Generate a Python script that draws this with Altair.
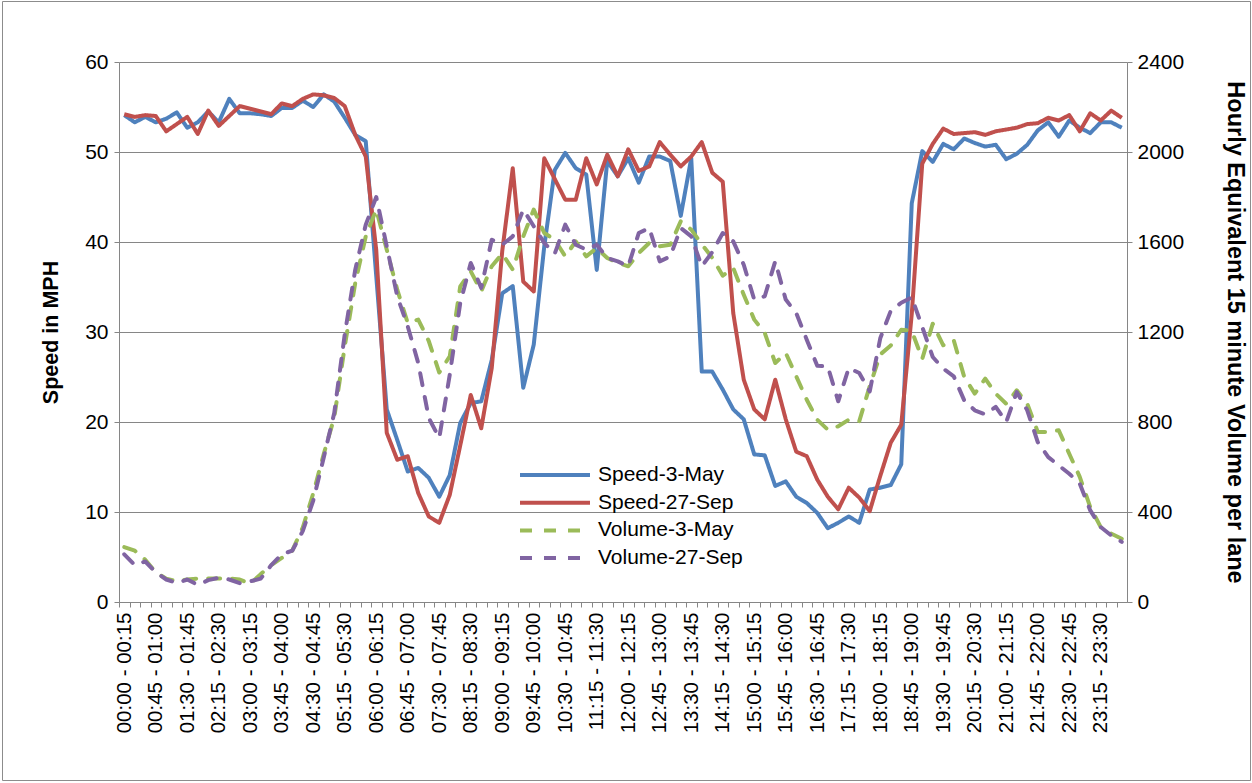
import altair as alt
import pandas as pd

# 15-minute intervals over one day
intervals = [
    f"{(m // 60) % 24:02d}:{m % 60:02d} - {((m + 15) // 60) % 24:02d}:{(m + 15) % 60:02d}"
    for m in range(0, 1440, 15)
]

series_names = ["Speed-3-May", "Speed-27-Sep", "Volume-3-May", "Volume-27-Sep"]
series_colors = ["#4F81BD", "#C0504D", "#9BBB59", "#8064A2"]

# Speed in MPH
speed_may = [
    54.1, 53.3, 53.9, 53.3, 53.7, 54.4, 52.7, 53.3, 54.5, 53.3, 55.9, 54.3,
    54.3, 54.2, 54.0, 54.9, 54.9, 55.7, 55.0, 56.4, 55.6, 53.8, 51.9, 51.2,
    36.2, 21.4, 18.0, 14.5, 14.9, 13.8, 11.7, 14.1, 19.9, 22.1, 22.3, 26.9,
    34.3, 35.1, 23.8, 28.6, 39.5, 48.0, 49.9, 48.2, 47.5, 36.9, 49.0, 47.3,
    49.3, 46.6, 49.5, 49.5, 49.0, 42.9, 49.3, 25.6, 25.6, 23.6, 21.4, 20.3,
    16.4, 16.3, 12.9, 13.4, 11.7, 11.0, 9.9, 8.2, 8.8, 9.5, 8.8, 12.5,
    12.7, 13.0, 15.3, 44.3, 50.1, 48.9, 50.9, 50.3, 51.5, 51.0, 50.6, 50.8,
    49.2, 49.8, 50.8, 52.4, 53.3, 51.7, 53.5, 52.7, 52.1, 53.3, 53.3, 52.7,
]
speed_sep = [
    54.2, 53.9, 54.1, 54.0, 52.3, 53.1, 53.9, 52.0, 54.6, 52.9, 54.0, 55.1,
    54.8, 54.5, 54.2, 55.4, 55.1, 55.9, 56.4, 56.3, 56.0, 55.1, 51.9, 49.5,
    39.1, 18.8, 15.8, 16.2, 12.1, 9.5, 8.8, 11.9, 17.4, 23.0, 19.3, 26.0,
    39.0, 48.2, 35.6, 34.5, 49.3, 47.0, 44.7, 44.7, 49.3, 46.4, 49.7, 47.3,
    50.3, 47.9, 48.4, 51.1, 49.7, 48.4, 49.5, 51.1, 47.7, 46.7, 32.1, 24.7,
    21.4, 20.3, 24.7, 20.3, 16.7, 16.2, 13.6, 11.7, 10.3, 12.7, 11.6, 10.1,
    14.0, 17.7, 19.7, 32.0, 48.7, 50.9, 52.6, 52.0, 52.1, 52.2, 51.9, 52.3,
    52.5, 52.7, 53.1, 53.2, 53.8, 53.5, 54.1, 52.3, 54.3, 53.5, 54.6, 53.8,
]

# Hourly equivalent 15-minute volume per lane
volume_may = [
    244, 228, 188, 132, 104, 92, 100, 104, 104, 104, 104, 100,
    81, 124, 164, 196, 228, 331, 483, 658, 820, 1136, 1418, 1625,
    1744, 1566, 1388, 1240, 1255, 1160, 1020, 1092, 1403, 1470, 1381, 1492,
    1548, 1477, 1625, 1744, 1640, 1610, 1536, 1603, 1536, 1573, 1529, 1507,
    1492, 1551, 1596, 1581, 1588, 1692, 1655, 1590, 1530, 1450, 1484, 1366,
    1255, 1196, 1062, 1107, 1003, 899, 810, 766, 781, 810, 803, 959,
    1100, 1140, 1210, 1205, 1081, 1237, 1141, 1163, 1000, 926, 993, 926,
    881, 941, 881, 756, 756, 763, 659, 556, 422, 333, 304, 281,
]
volume_sep = [
    212, 164, 180, 132, 100, 84, 100, 76, 97, 108, 100, 84,
    92, 104, 164, 212, 228, 315, 451, 642, 840, 1190, 1477, 1677,
    1800, 1581, 1359, 1225, 1062, 818, 729, 1010, 1329, 1507, 1396, 1610,
    1588, 1625, 1744, 1670, 1596, 1548, 1677, 1588, 1566, 1588, 1529, 1514,
    1492, 1640, 1662, 1514, 1536, 1662, 1625, 1492, 1555, 1640, 1603, 1499,
    1344, 1359, 1514, 1344, 1284, 1166, 1050, 1047, 892, 1040, 1018, 936,
    1172, 1294, 1330, 1354, 1222, 1089, 1037, 1003, 896, 852, 834, 867,
    800, 933, 852, 711, 644, 607, 570, 526, 407, 333, 296, 267,
]

rows = []
for name, values in zip(series_names, [speed_may, speed_sep, volume_may, volume_sep]):
    for t, v in zip(intervals, values):
        rows.append({"interval": t, "series": name, "value": v})
df = pd.DataFrame(rows)

FONT = "Liberation Sans"
AXIS_GRAY = "#868686"
PLOT_W, PLOT_H = 1008, 540
step = PLOT_W / len(intervals)

# every third interval gets a label; every interval gets a tick at its left edge
label_expr = (
    "(parseInt(substring(datum.value, 0, 2)) * 4 + "
    "parseInt(substring(datum.value, 3, 5)) / 15) % 3 == 0 ? datum.value : ''"
)

x_enc = alt.X(
    "interval:N",
    sort=intervals,
    scale=alt.Scale(type="point", padding=0.5),
    axis=alt.Axis(
        title=None,
        labelExpr=label_expr,
        labelAngle=270,
        labelAlign="right",
        labelBaseline="middle",
        labelOverlap=False,
        labelBound=False,
        labelFontSize=20.5,
        labelPadding=5,
        labelColor="#000000",
        tickOffset=-step / 2,
        labelOffset=step / 2,
        tickSize=5,
        tickColor=AXIS_GRAY,
        domainColor=AXIS_GRAY,
        grid=False,
    ),
)

legend = alt.Legend(
    title=None,
    orient="none",
    legendX=399,
    legendY=403,
    symbolType="stroke",
    symbolSize=4900,
    symbolStrokeWidth=4,
    labelFontSize=21,
    labelColor="#000000",
    labelOffset=6,
    clipHeight=20,
    rowPadding=6.7,
    padding=0,
)

color_enc = alt.Color(
    "series:N",
    scale=alt.Scale(domain=series_names, range=series_colors),
    legend=legend,
)
dash_enc = alt.StrokeDash(
    "series:N",
    scale=alt.Scale(domain=series_names, range=[[1, 0], [1, 0], [12, 12], [12, 12]]),
    legend=legend,
)

speed_y = alt.Y(
    "value:Q",
    scale=alt.Scale(domain=[0, 60]),
    axis=alt.Axis(
        orient="left",
        values=[0, 10, 20, 30, 40, 50, 60],
        grid=True,
        gridColor=AXIS_GRAY,
        gridWidth=1,
        tickSize=5,
        tickColor=AXIS_GRAY,
        domainColor=AXIS_GRAY,
        labelFontSize=21,
        labelPadding=6,
        labelColor="#000000",
        title="Speed in MPH",
        titleFontSize=21.5,
        titleFontWeight="bold",
        titleColor="#000000",
        titlePadding=22,
    ),
)

volume_y = alt.Y(
    "value:Q",
    scale=alt.Scale(domain=[0, 2400]),
    axis=alt.Axis(
        orient="right",
        values=[0, 400, 800, 1200, 1600, 2000, 2400],
        format="d",
        grid=False,
        tickSize=5,
        tickColor=AXIS_GRAY,
        domainColor=AXIS_GRAY,
        labelFontSize=21,
        labelPadding=5,
        labelColor="#000000",
        title="Hourly Equivalent 15 minute Volume per lane",
        titleFontSize=23.5,
        titleFontWeight="bold",
        titleColor="#000000",
        titlePadding=39,
    ),
)


def series_line(name, y_enc, dashed):
    mark = alt.Chart(df).mark_line(
        strokeWidth=4,
        strokeCap="round" if dashed else "butt",
        strokeJoin="round",
    )
    return mark.transform_filter(alt.datum.series == name).encode(
        x=x_enc, y=y_enc, color=color_enc, strokeDash=dash_enc
    )


speed_layer = alt.layer(
    series_line("Speed-3-May", speed_y, False),
    series_line("Speed-27-Sep", speed_y, False),
)
volume_layer = alt.layer(
    series_line("Volume-3-May", volume_y, True),
    series_line("Volume-27-Sep", volume_y, True),
)

# thin frame around the whole chart area
frame = alt.Chart(pd.DataFrame({"k": [0]})).mark_rect(
    fillOpacity=0, stroke="#8C8C8C", strokeWidth=1
).encode(
    x=alt.value(-116.5),
    x2=alt.value(PLOT_W + 123.5),
    y=alt.value(-60.5),
    y2=alt.value(PLOT_H + 178.5),
)

chart = (
    alt.layer(speed_layer, volume_layer, frame)
    .resolve_scale(y="independent")
    .properties(
        width=PLOT_W,
        height=PLOT_H,
        autosize=alt.AutoSizeParams(type="none"),
        padding={"left": 119, "top": 62, "right": 125, "bottom": 181},
        background="#FFFFFF",
    )
    .configure(font=FONT)
    .configure_view(stroke=None)
)

chart.save("out.html", embed_options={"renderer": "svg", "actions": False})
